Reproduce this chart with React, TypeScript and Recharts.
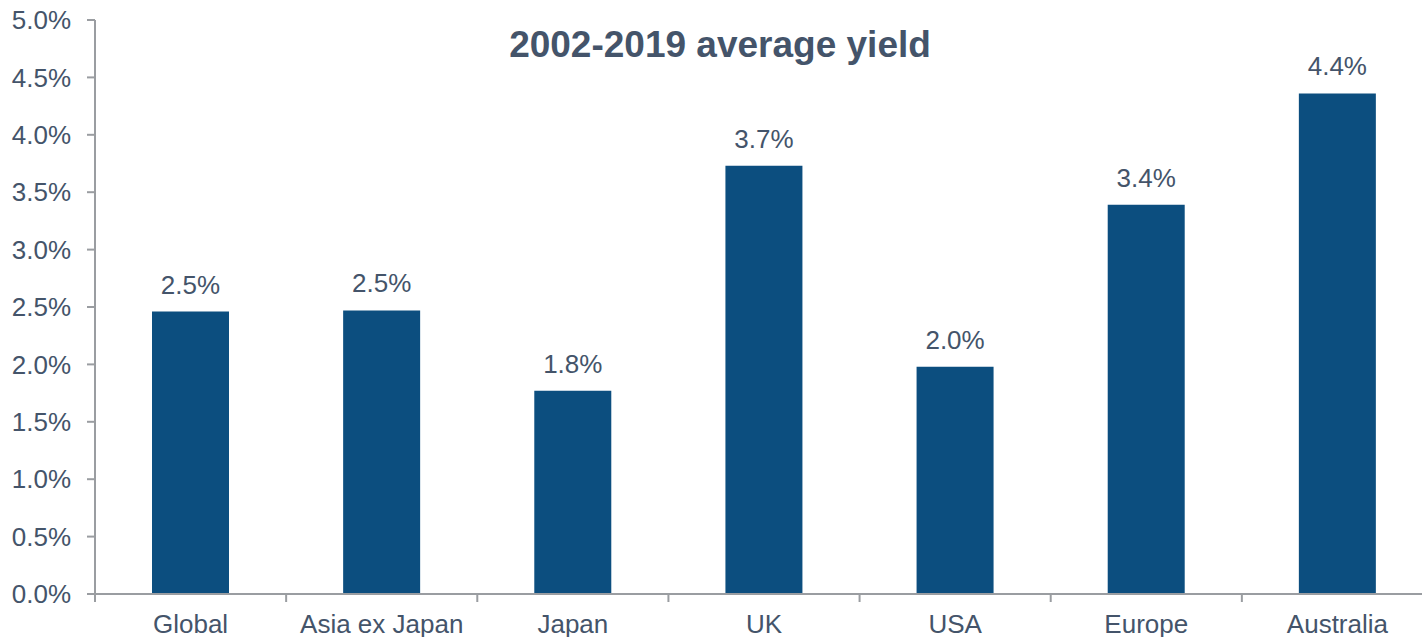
import React from 'react';
import { Bar, BarChart, LabelList, XAxis, YAxis } from 'recharts';

const regions = ['Global', 'Asia ex Japan', 'Japan', 'UK', 'USA', 'Europe', 'Australia'];
const avgYield = [2.46, 2.47, 1.77, 3.73, 1.98, 3.39, 4.36];
const yTicks = [0, 0.5, 1, 1.5, 2, 2.5, 3, 3.5, 4, 4.5, 5];

const data = regions.map((name, i) => ({ name, value: avgYield[i] }));

const TEXT = '#44546A';
const AXIS = '#9A9DA1';
const BAR = '#0C4E7F';
const FONT = '"Liberation Sans", Arial, sans-serif';

const CHART_W = 1440;
const CHART_H = 660;
const Y_AXIS_W = 95;
const MARGIN = { top: 20, right: 7, left: 0, bottom: 6 };
const BAND = (CHART_W - MARGIN.left - MARGIN.right - Y_AXIS_W) / regions.length;

function CategoryTick(props: any) {
  const { x, y, payload } = props;
  const edge = x - BAND / 2;
  return (
    <g>
      <line x1={edge} x2={edge} y1={y} y2={y + 8} stroke={AXIS} strokeWidth={2} />
      <text x={x} y={y + 39} textAnchor="middle" fill={TEXT} fontSize={26} fontFamily={FONT}>
        {payload.value}
      </text>
    </g>
  );
}

export default function App() {
  return (
    <div
      style={{
        position: 'absolute',
        left: 0,
        top: 0,
        width: 1422,
        height: 637,
        overflow: 'hidden',
        background: '#fff',
      }}
    >
      <BarChart width={CHART_W} height={CHART_H} data={data} margin={MARGIN} barSize={77}>
        <XAxis
          dataKey="name"
          axisLine={{ stroke: AXIS, strokeWidth: 2 }}
          tickLine={false}
          tickSize={0}
          tickMargin={0}
          tick={<CategoryTick />}
          interval={0}
          height={60}
        />
        <YAxis
          domain={[0, 5]}
          ticks={yTicks}
          width={Y_AXIS_W}
          tickFormatter={(v: number) => `${v.toFixed(1)}%`}
          axisLine={{ stroke: AXIS, strokeWidth: 2 }}
          tickLine={{ stroke: AXIS, strokeWidth: 2 }}
          tickSize={8}
          tickMargin={16}
          tick={{ fill: TEXT, fontSize: 26, fontFamily: FONT }}
          interval={0}
        />
        <Bar dataKey="value" fill={BAR} isAnimationActive={false}>
          <LabelList
            dataKey="value"
            position="top"
            offset={18}
            formatter={(v: any) => `${Number(v).toFixed(1)}%`}
            fill={TEXT}
            fontSize={26}
            fontFamily={FONT}
          />
        </Bar>
      </BarChart>
      <div
        style={{
          position: 'absolute',
          left: 0,
          top: 26,
          width: CHART_W,
          textAlign: 'center',
          fontFamily: FONT,
          fontWeight: 'bold',
          fontSize: 37,
          lineHeight: 1,
          color: TEXT,
        }}
      >
        2002-2019 average yield
      </div>
    </div>
  );
}
